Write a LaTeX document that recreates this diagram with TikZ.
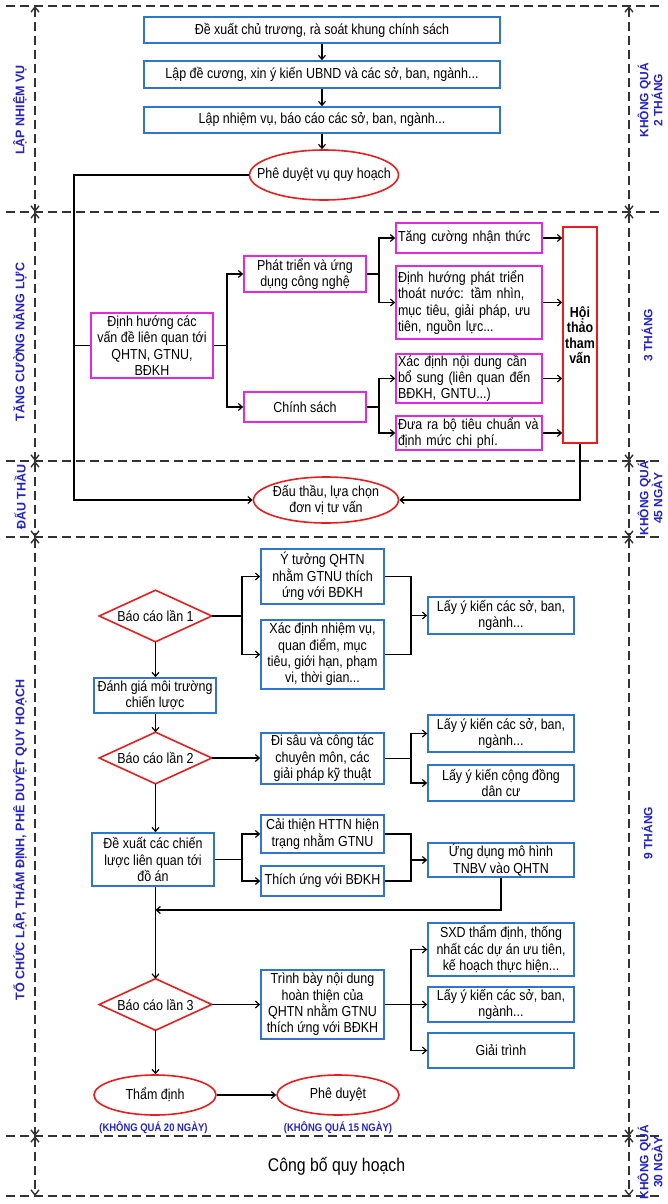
\documentclass[tikz,border=0pt]{standalone}
\usepackage{fontspec}
\setmainfont{Liberation Sans}[FakeStretch=0.86]
\newfontfamily\labfont{Liberation Sans}
\usetikzlibrary{arrows.meta,calc}
\definecolor{bbox}{RGB}{47,117,205}
\definecolor{mbox}{RGB}{226,40,226}
\definecolor{rbox}{RGB}{230,30,30}
\definecolor{lblue}{RGB}{35,35,200}
\newcommand{\ovalat}[3]{\draw[rbox,line width=1.6pt] (#1.center) ellipse [x radius=#2pt, y radius=#3pt];}
\newcommand{\diamat}[1]{\draw[rbox,line width=1.6pt] (#1.north) -- (#1.east) -- (#1.south) -- (#1.west) -- cycle;}
\begin{document}
\begin{tikzpicture}[x=1pt,y=-1pt,
  base/.style={font=\fontsize{14.5}{16.4}\selectfont, inner sep=1pt, line width=1.6pt},
  wh/.style 2 args={minimum width=#1pt, minimum height=#2pt},
  bb/.style={base, draw=bbox, rectangle, align=center},
  mb/.style={base, draw=mbox, rectangle, align=center},
  mbl/.style={base, draw=mbox, rectangle, align=left, text width=142pt},
  rb/.style={base, draw=rbox, rectangle, align=center, font=\bfseries\fontsize{14.5}{15.5}\selectfont},
  plain/.style={base, draw=none, align=center},
  arr/.style={line width=1.2pt, -{Straight Barb[length=4pt,width=7pt]}},
  ln/.style={line width=1.2pt},
  sec/.style={draw=black!80, line width=1.4pt, dash pattern=on 9pt off 5pt},
  dim/.style={sec, {Straight Barb[length=5pt,width=8pt]}-{Straight Barb[length=5pt,width=8pt]}},
  lab/.style={text=lblue, font=\labfont\bfseries\fontsize{12.5}{13}\selectfont, rotate=90, align=center, inner sep=0pt},
  rlab/.style={text=lblue, font=\labfont\bfseries\fontsize{12}{12.5}\selectfont, rotate=90, align=center, inner sep=0pt},
  note/.style={text=lblue, font=\bfseries\fontsize{11}{12}\selectfont, inner sep=0pt}
]
\useasboundingbox (0,0) rectangle (668,1204);

% section separators and dimension lines
\foreach \yy in {6,212,461,537,1136,1196} \draw[sec] (6,\yy) -- (662,\yy);
\foreach \xx in {35,629} {
  \foreach \ya/\yb in {6/212,212/461,461/537,537/1136,1136/1196}
    \draw[dim] (\xx,\ya) -- (\xx,\yb);
}

% side labels
\node[lab] (L1) at (20,110) {LẬP NHIỆM VỤ};
\node[lab] (L2) at (20,342) {TĂNG CƯỜNG NĂNG LỰC};
\node[lab] (L3) at (20,497) {ĐẤU THẦU};
\node[lab] (L4) at (20,840) {TỔ CHỨC LẬP, THẨM ĐỊNH, PHÊ DUYỆT QUY HOẠCH};
\node[rlab] (R1) at (650,100) {KHÔNG QUÁ\\2 THÁNG};
\node[rlab] (R2) at (647,335) {3 THÁNG};
\node[rlab] (R3) at (650,498) {KHÔNG QUÁ\\45 NGÀY};
\node[rlab] (R4) at (647,833) {9 THÁNG};
\node[rlab] (R5) at (650,1162) {KHÔNG QUÁ\\30 NGÀY};

% ---- section 1
\node[bb, wh={356}{26}] (b1) at (322,30) {Đề xuất chủ trương, rà soát khung chính sách};
\node[bb, wh={356}{27}] (b2) at (322,74.5) {Lập đề cương, xin ý kiến UBND và các sở, ban, ngành...};
\node[bb, wh={356}{26}] (b3) at (322,120) {Lập nhiệm vụ, báo cáo các sở, ban, ngành...};
\node[plain, wh={149}{50}] (e1) at (324,175) {Phê duyệt vụ quy hoạch};
\ovalat{e1}{74.5}{25}
\draw[arr] (b1.south) -- (b2.north);
\draw[arr] (b2.south) -- (b3.north);
\draw[arr] (b3.south) -- (b3.south |- e1.north);

% ---- section 2
\node[mb, wh={122}{65}] (d0) at (152,345.5) {Định hướng các\\vấn đề liên quan tới\\QHTN, GTNU,\\BĐKH};
\node[mb, wh={122}{36}] (p1) at (305,274) {Phát triển và ứng\\dụng công nghệ};
\node[mb, wh={122}{30}] (p2) at (305,407) {Chính sách};
\node[mbl, wh={146}{30}] (q1) at (469,238) {Tăng cường nhận thức};
\node[mbl, wh={146}{73}] (q2) at (469,302.5) {Định hướng phát triển\\thoát nước: tầm nhìn,\\mục tiêu, giải pháp, ưu\\tiên, nguồn lực...};
\node[mbl, wh={146}{49}] (q3) at (469,378.5) {Xác định nội dung cần\\bổ sung (liên quan đến\\BĐKH, GNTU...)};
\node[mbl, wh={146}{34}] (q4) at (469,433) {Đưa ra bộ tiêu chuẩn và\\định mức chi phí.};
\node[rb, wh={34}{216}] (ht) at (580,335) {Hội\\thảo\\tham\\vấn};

\coordinate (f1) at (227,0);
\coordinate (f2) at (379,0);
\draw[arr] (d0.east) -- (d0.east -| f1) |- (p1.west);
\draw[arr] (d0.east -| f1) |- (p2.west);
\draw[arr] (p1.east) -- (p1.east -| f2) |- (q1.west);
\draw[arr] (p1.east -| f2) |- (q2.west);
\draw[arr] (p2.east) -- (p2.east -| f2) |- (q3.west);
\draw[arr] (p2.east -| f2) |- (q4.west);
\foreach \q in {q1,q2,q3,q4} \draw[arr] (\q.east) -- (\q.east -| ht.west);

% ---- section 3
\node[plain, wh={145}{46}] (e2) at (326,500) {Đấu thầu, lựa chọn\\đơn vị tư vấn};
\ovalat{e2}{72.5}{23}
\coordinate (tk) at (74,0);
\draw[arr] (e1.west) -| (tk |- e2.west) -- (e2.west);
\draw[ln] (tk |- d0.west) -- (d0.west);
\draw[arr] (ht.south) |- (e2.east);

% ---- section 4
\coordinate (f3) at (242,0);
\coordinate (f4) at (411,0);
\coordinate (mj) at (0,910);

\node[plain, wh={111}{50}] (r1) at (155.5,616) {Báo cáo lần 1};
\diamat{r1}
\node[bb, wh={123}{55}] (s1) at (322.5,576.5) {Ý tưởng QHTN\\nhằm GTNU thích\\ứng với BĐKH};
\node[bb, wh={123}{69}] (s2) at (322.5,654.5) {Xác định nhiệm vụ,\\quan điểm, mục\\tiêu, giới hạn, phạm\\vi, thời gian...};
\node[bb, wh={146}{37}] (t1) at (501,615.5) {Lấy ý kiến các sở, ban,\\ngành...};
\draw[arr] (r1.east) -- (r1.east -| f3) |- (s1.west);
\draw[arr] (r1.east -| f3) |- (s2.west);
\draw[ln] (s1.east) -| (f4 |- s2.east) -- (s2.east);
\draw[arr] (f4 |- t1.west) -- (t1.west);

\node[bb, wh={122}{35}] (m1) at (155,695.5) {Đánh giá môi trường\\chiến lược};
\draw[arr] (r1.south) -- (r1.south |- m1.north);

\node[plain, wh={111}{50}] (r2) at (155.5,758) {Báo cáo lần 2};
\diamat{r2}
\draw[arr] (r2.north |- m1.south) -- (r2.north);
\node[bb, wh={123}{51}] (s3) at (322.5,758.5) {Đi sâu và công tác\\chuyên môn, các\\giải pháp kỹ thuật};
\node[bb, wh={146}{37}] (t2) at (501,733.5) {Lấy ý kiến các sở, ban,\\ngành...};
\node[bb, wh={146}{36}] (t3) at (501,783) {Lấy ý kiến cộng đồng\\dân cư};
\draw[arr] (r2.east) -- (r2.east -| s3.west);
\draw[arr] (s3.east) -- (s3.east -| f4) |- (t2.west);
\draw[arr] (s3.east -| f4) |- (t3.west);

\node[bb, wh={122}{53}] (m2) at (153,859.5) {Đề xuất các chiến\\lược liên quan tới\\đồ án};
\draw[arr] (r2.south) -- (r2.south |- m2.north);
\node[bb, wh={123}{38}] (u1) at (322.5,834) {Cải thiện HTTN hiện\\trạng nhằm GTNU};
\node[bb, wh={123}{30}] (u2) at (322.5,881) {Thích ứng với BĐKH};
\node[bb, wh={146}{34}] (v1) at (501,860) {Ứng dụng mô hình\\TNBV vào QHTN};
\draw[arr] (m2.east) -- (m2.east -| f3) |- (u1.west);
\draw[arr] (m2.east -| f3) |- (u2.west);
\draw[ln] (u1.east) -| (f4 |- u2.east) -- (u2.east);
\draw[arr] (f4 |- v1.west) -- (v1.west);

\node[plain, wh={111}{50}] (r3) at (155.5,1004.5) {Báo cáo lần 3};
\diamat{r3}
\draw[arr] (r3.north |- m2.south) -- (r3.north);
\draw[arr] (v1.south) |- (r3.north |- mj);

\node[bb, wh={123}{69}] (w1) at (322.5,1004.5) {Trình bày nội dung\\hoàn thiện của\\QHTN nhằm GTNU\\thích ứng với BĐKH};
\node[bb, wh={146}{53}] (x1) at (501,949.5) {SXD thẩm định, thống\\nhất các dự án ưu tiên,\\kế hoạch thực hiện...};
\node[bb, wh={146}{35}] (x2) at (501,1004.5) {Lấy ý kiến các sở, ban,\\ngành...};
\node[bb, wh={146}{35}] (x3) at (501,1050.5) {Giải trình};
\draw[arr] (r3.east) -- (r3.east -| w1.west);
\draw[ln] (w1.east) -- (w1.east -| f4);
\draw[arr] (w1.east -| f4) |- (x1.west);
\draw[arr] (w1.east -| f4) -- (x2.west);
\draw[arr] (w1.east -| f4) |- (x3.west);

\node[plain, wh={122}{40}] (e3) at (155,1095) {Thẩm định};
\ovalat{e3}{61}{20}
\node[plain, wh={122}{40}] (e4) at (338,1095) {Phê duyệt};
\ovalat{e4}{61}{20}
\draw[arr] (r3.south) -- (r3.south |- e3.north);
\draw[arr] (e3.east) -- (e4.west);
\node[note] (n1) at (153.5,1128) {(KHÔNG QUÁ 20 NGÀY)};
\node[note] (n2) at (338,1128) {(KHÔNG QUÁ 15 NGÀY)};

% ---- section 5
\node[font=\fontsize{18.4}{20}\selectfont, inner sep=0pt] (cb) at (336.5,1166) {Công bố quy hoạch};
\end{tikzpicture}
\end{document}
